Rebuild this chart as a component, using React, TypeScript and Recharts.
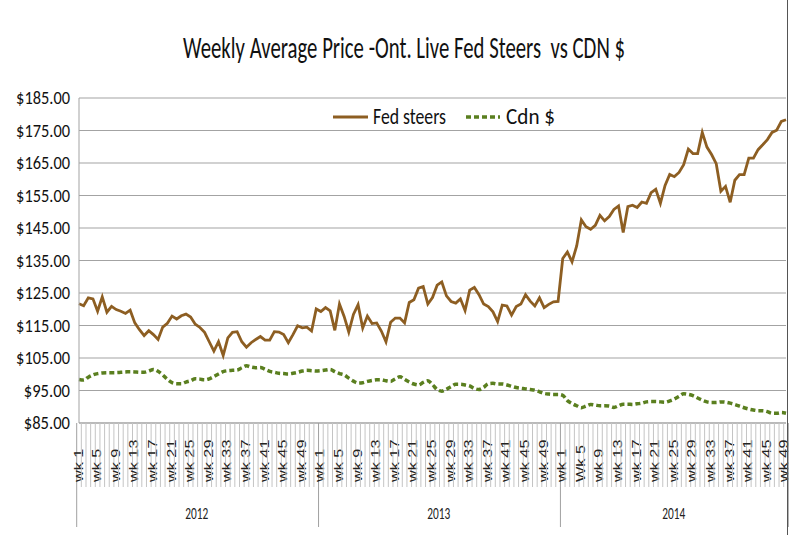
import { LineChart, Line, XAxis, YAxis, CartesianGrid } from 'recharts'

// weekly prices
const years = ['2012', '2013', '2014']

const fedSteers2012 = [
  121.7, 121.1, 123.5, 123.2, 119.4, 123.8, 119.1, 120.9, 119.9, 119.4,
  118.7, 119.7, 115.8, 113.7, 111.9, 113.4, 112.2, 110.7, 114.5, 115.7,
  117.9, 117.0, 118.0, 118.5, 117.6, 115.4, 114.4, 112.9, 110.0, 107.1,
  110.0, 105.8, 111.2, 112.9, 113.1, 110.0, 108.3, 109.7, 110.7, 111.6,
  110.5, 110.5, 113.1, 113.0, 112.2, 109.7, 112.2, 114.9, 114.3, 114.5,
  113.3, 120.1,
]
const fedSteers2013 = [
  119.3, 120.5, 119.5, 113.5, 121.6, 117.8, 113.0, 118.4, 121.4, 114.2,
  117.9, 115.6, 115.8, 113.3, 110.0, 116.0, 117.3, 117.3, 115.8, 122.1,
  122.9, 126.5, 127.0, 121.6, 123.6, 127.4, 128.4, 124.1, 122.4, 121.9,
  123.2, 119.6, 125.9, 126.7, 124.5, 121.6, 120.8, 119.2, 116.2, 121.3,
  121.0, 118.2, 120.8, 121.6, 124.5, 122.5, 121.0, 123.5, 120.5, 121.5,
  122.3, 122.4,
]
const fedSteers2014 = [
  135.6, 137.6, 134.6, 139.5, 147.5, 145.4, 144.6, 145.8, 148.9, 147.2,
  148.5, 150.7, 151.8, 143.6, 151.6, 152.0, 151.3, 153.0, 152.6, 155.9,
  156.9, 152.6, 158.1, 161.5, 160.8, 162.1, 164.5, 169.3, 167.9, 167.9,
  174.4, 169.9, 167.6, 164.8, 156.3, 157.8, 152.9, 159.7, 161.4, 161.4,
  166.5, 166.5, 169.1, 170.6, 172.2, 174.4, 175.1, 177.8, 178.3,
]

const cdn2012 = [
  98.4, 98.2, 99.1, 99.8, 100.2, 100.4, 100.5, 100.5, 100.5, 100.6,
  100.7, 100.8, 100.7, 100.6, 100.6, 101.0, 101.5, 100.9, 99.8, 98.4,
  97.4, 97.1, 97.1, 97.6, 98.0, 98.6, 98.5, 98.3, 98.6, 99.3,
  100.1, 100.8, 101.1, 101.2, 101.3, 102.0, 102.6, 102.2, 102.0, 102.1,
  101.5, 100.9, 100.6, 100.3, 100.2, 100.1, 100.3, 100.6, 101.0, 101.2,
  101.1, 101.0,
]
const cdn2013 = [
  101.1, 101.3, 101.5, 100.8, 100.2, 99.8, 98.8, 97.9, 97.3, 97.4,
  97.8, 98.1, 98.3, 98.3, 98.0, 97.8, 98.6, 99.2, 98.4, 97.6,
  97.0, 96.7, 97.5, 98.0, 96.8, 95.3, 94.8, 95.4, 96.2, 96.9,
  96.9, 96.7, 96.4, 95.6, 95.3, 96.0, 97.1, 97.2, 97.0, 97.0,
  96.7, 96.3, 95.9, 95.7, 95.5, 95.3, 95.1, 94.6, 94.1, 93.9,
  93.8, 93.8,
]
const cdn2014 = [
  93.5, 91.9, 91.0, 90.3, 89.7, 90.2, 90.7, 90.5, 90.3, 90.3,
  90.2, 89.8, 90.3, 90.8, 90.8, 90.7, 90.9, 91.1, 91.5, 91.6,
  91.6, 91.5, 91.4, 91.8, 92.4, 93.2, 94.0, 93.8, 93.4, 92.7,
  92.0, 91.5, 91.3, 91.3, 91.5, 91.4, 91.1, 90.7, 90.2, 89.7,
  89.3, 89.0, 88.8, 88.8, 88.5, 88.0, 88.0, 88.2, 88.0,
]

const yTicks = [85, 95, 105, 115, 125, 135, 145, 155, 165, 175, 185]

const fedByYear = [fedSteers2012, fedSteers2013, fedSteers2014]
const cdnByYear = [cdn2012, cdn2013, cdn2014]

const rows = years.flatMap((year, yi) =>
  fedByYear[yi].map((fed, i) => ({
    key: `${year}-${i + 1}`,
    year,
    week: i + 1,
    // 2014 wk 5 is spelled with a capital W on the original
    label: year === '2014' && i === 4 ? 'Wk 5' : `wk ${i + 1}`,
    yearCount: fedByYear[yi].length,
    fed,
    cdn: cdnByYear[yi][i],
  }))
)

const W = 789
const H = 535
const LEFT = 79
const RIGHT = 3
const TOP = 98
const AXIS_Y = 423
const BAND = (W - LEFT - RIGHT) / rows.length

const FED_COLOR = '#8d5e22'
const CDN_COLOR = '#5a7f1f'
const GRID = '#a3a3a3'
const calibri = 'Carlito, Lato, "Liberation Sans", sans-serif'

function WeekTick(props: any) {
  const { x, payload } = props
  const i = payload?.index ?? props.index
  const r = rows[i]
  if (!r) return null
  const left = x - BAND / 2
  const isLast = i === rows.length - 1
  return (
    <g>
      <line x1={left} x2={left} y1={AXIS_Y} y2={r.week === 1 ? 527 : 487} stroke={r.week === 1 ? '#a0a0a0' : '#c4c4c4'} strokeWidth={1} />
      {isLast && <line x1={x + BAND / 2} x2={x + BAND / 2} y1={AXIS_Y} y2={527} stroke="#a0a0a0" />}
      {(r.week - 1) % 4 === 0 && (
        <text
          transform={`translate(${x + (isLast ? 2 : 3.5)},482) rotate(-90) scale(1.25,1)`}
          fontFamily='"Liberation Sans", Arial, sans-serif'
          fontSize={13}
          fill="#222"
        >
          {r.label}
        </text>
      )}
      {r.week === 1 && (
        <text
          x={left + (r.yearCount * BAND) / 2}
          y={519}
          textAnchor="middle"
          fontFamily={calibri}
          fontSize={17}
          textLength={23}
          lengthAdjust="spacingAndGlyphs"
          fill="#222"
        >
          {r.year}
        </text>
      )}
    </g>
  )
}

function PriceTick(props: any) {
  const { y, payload } = props
  const s = `$${Number(payload.value).toFixed(2)}`
  return (
    <text
      x={70}
      y={y + 6}
      textAnchor="end"
      fontFamily={calibri}
      fontSize={19}
      textLength={s.length * 7.7}
      lengthAdjust="spacingAndGlyphs"
      fill="#111"
    >
      {s}
    </text>
  )
}

export default function App() {
  return (
    <div style={{ position: 'relative', width: W, height: H, background: '#fff' }}>
      <style>{'body{margin:0}'}</style>
      <LineChart width={W} height={H} data={rows} margin={{ top: TOP, right: RIGHT, bottom: 0, left: 0 }}>
        <CartesianGrid vertical={false} stroke={GRID} strokeWidth={1.2} />
        <XAxis
          dataKey="key"
          interval={0}
          height={H - AXIS_Y}
          tickLine={false}
          axisLine={{ stroke: GRID }}
          tick={<WeekTick />}
        />
        <YAxis
          domain={[85, 185]}
          ticks={yTicks}
          width={LEFT}
          tickLine={false}
          axisLine={{ stroke: GRID }}
          tick={<PriceTick />}
        />
        <Line
          type="linear"
          dataKey="fed"
          name="Fed steers"
          stroke={FED_COLOR}
          strokeWidth={2.8}
          dot={false}
          isAnimationActive={false}
        />
        <Line
          type="monotone"
          dataKey="cdn"
          name="Cdn $"
          stroke={CDN_COLOR}
          strokeWidth={3.5}
          strokeDasharray="5 3"
          dot={false}
          isAnimationActive={false}
        />
      </LineChart>
      {/* title and legend */}
      <svg width={W} height={140} style={{ position: 'absolute', left: 0, top: 0, pointerEvents: 'none' }}>
        <text
          x={404}
          y={58}
          textAnchor="middle"
          fontFamily={calibri}
          fontSize={30}
          textLength={442}
          lengthAdjust="spacingAndGlyphs"
          fill="#111"
        >
          {'Weekly Average Price -Ont. Live Fed Steers\u00a0 vs CDN $'}
        </text>
        <line x1={333} x2={368} y1={117} y2={117} stroke={FED_COLOR} strokeWidth={3} />
        <text x={373} y={124} fontFamily={calibri} fontSize={22} textLength={73} lengthAdjust="spacingAndGlyphs" fill="#111">
          Fed steers
        </text>
        <line x1={466} x2={500} y1={117} y2={117} stroke={CDN_COLOR} strokeWidth={3.5} strokeDasharray="5 3" />
        <text x={506} y={124} fontFamily={calibri} fontSize={22} textLength={49} lengthAdjust="spacingAndGlyphs" fill="#111">
          Cdn $
        </text>
      </svg>
      <div style={{ position: 'absolute', left: 787, top: 0, width: 1, height: H, background: '#555' }} />
    </div>
  )
}
